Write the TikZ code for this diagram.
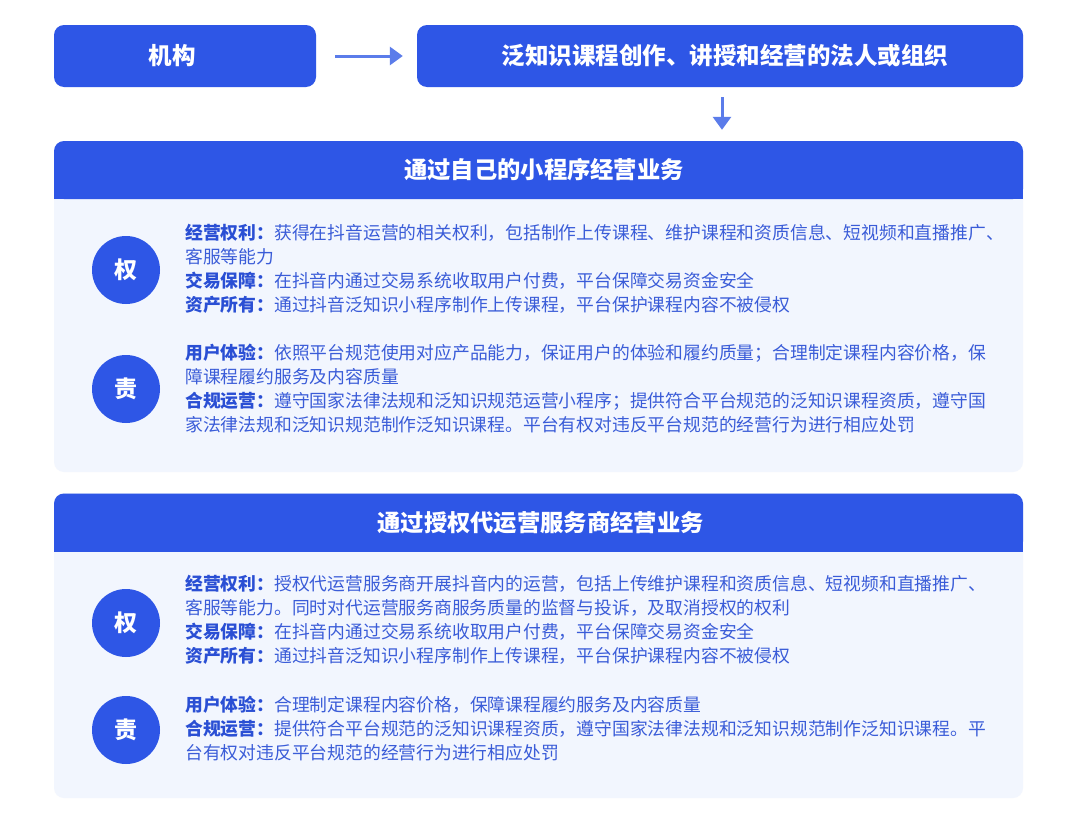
\documentclass[tikz,border=0pt]{standalone}
\usepackage{fontspec}
\setmainfont{Noto Sans CJK SC}
\usetikzlibrary{arrows.meta,calc}
\definecolor{mainblue}{HTML}{2E56E6}
\definecolor{panel}{HTML}{F2F6FE}
\definecolor{txtblue}{HTML}{3A5CD8}
\definecolor{lblblue}{HTML}{2A4FD4}
\definecolor{arrblue}{HTML}{5B7CEA}
\newcommand\lblx[1]{{\color{lblblue}\bfseries #1}}
\begin{document}
\begin{tikzpicture}[x=1pt,y=-1pt,
  topbox/.style={fill=mainblue, rounded corners=10pt, inner sep=0pt, minimum height=62pt},
  toptext/.style={text=white, inner sep=0pt, font=\fontsize{23.5}{28}\selectfont\bfseries},
  hdr/.style={fill=mainblue, rounded corners=10pt, inner sep=0pt, minimum width=969pt, minimum height=58pt},
  hdrtext/.style={text=white, inner sep=0pt, font=\fontsize{23.3}{28}\selectfont\bfseries},
  panelbox/.style={fill=panel, rounded corners=10pt},
  circ/.style={circle, fill=mainblue, minimum size=68pt, inner sep=0pt, text=white, font=\fontsize{23}{28}\selectfont\bfseries},
  bodytext/.style={anchor=west, inner sep=0pt, align=left, text=txtblue, font=\fontsize{17.8}{24}\selectfont},
  arr/.style={draw=arrblue, line width=3pt, -{Triangle[length=13pt,width=18pt]}}]
\useasboundingbox[fill=white] (0,0) rectangle (1080,819);

% top row
\node[topbox, minimum width=262pt] (jigou) at (185,56) {};
\node[toptext] (jigoutxt) at (172,56) {机构};
\node[topbox, minimum width=606pt] (org) at (720,56) {};
\node[toptext] (orgtxt) at (725,56) {泛知识课程创作、讲授和经营的法人或组织};
\draw[arr] ([xshift=19pt]jigou.east) -- ([xshift=-14pt]org.west);

% section 1
\fill[panelbox] (54,141) rectangle (1023,472);
\node[hdr] (h1) at (538.5,170) {};
\fill[mainblue] (h1.south west) rectangle ([yshift=11pt]h1.south east);
\node[hdrtext] (h1txt) at (544,170) {通过自己的小程序经营业务};
\draw[arr] ([xshift=2pt,yshift=-10pt]org.south) -- ($(h1.north -| org.south)+(2,-11)$);

\node[circ] (q1) at (126,270) {权};
\node[bodytext] (t1) at (185,269) {\lblx{经营权利：}获得在抖音运营的相关权利，包括制作上传课程、维护课程和资质信息、短视频和直播推广、\\
客服等能力\\
\lblx{交易保障：}在抖音内通过交易系统收取用户付费，平台保障交易资金安全\\
\lblx{资产所有：}通过抖音泛知识小程序制作上传课程，平台保护课程内容不被侵权};

\node[circ] (z1) at (126,389) {责};
\node[bodytext] (t2) at (185,389) {\lblx{用户体验：}依照平台规范使用对应产品能力，保证用户的体验和履约质量；合理制定课程内容价格，保\\
障课程履约服务及内容质量\\
\lblx{合规运营：}遵守国家法律法规和泛知识规范运营小程序；提供符合平台规范的泛知识课程资质，遵守国\\
家法律法规和泛知识规范制作泛知识课程。平台有权对违反平台规范的经营行为进行相应处罚};

% section 2
\fill[panelbox] (54,493) rectangle (1023,798);
\node[hdr] (h2) at (538.5,522.5) {};
\fill[mainblue] (h2.south west) rectangle ([yshift=11pt]h2.south east);
\node[hdrtext] (h2txt) at (540.5,523) {通过授权代运营服务商经营业务};

\node[circ] (q2) at (126,623) {权};
\node[bodytext] (t3) at (185,619.5) {\lblx{经营权利：}授权代运营服务商开展抖音内的运营，包括上传维护课程和资质信息、短视频和直播推广、\\
客服等能力。同时对代运营服务商服务质量的监督与投诉，及取消授权的权利\\
\lblx{交易保障：}在抖音内通过交易系统收取用户付费，平台保障交易资金安全\\
\lblx{资产所有：}通过抖音泛知识小程序制作上传课程，平台保护课程内容不被侵权};

\node[circ] (z2) at (126,730) {责};
\node[bodytext] (t4) at (185,729) {\lblx{用户体验：}合理制定课程内容价格，保障课程履约服务及内容质量\\
\lblx{合规运营：}提供符合平台规范的泛知识课程资质，遵守国家法律法规和泛知识规范制作泛知识课程。平\\
台有权对违反平台规范的经营行为进行相应处罚};
\end{tikzpicture}
\end{document}
